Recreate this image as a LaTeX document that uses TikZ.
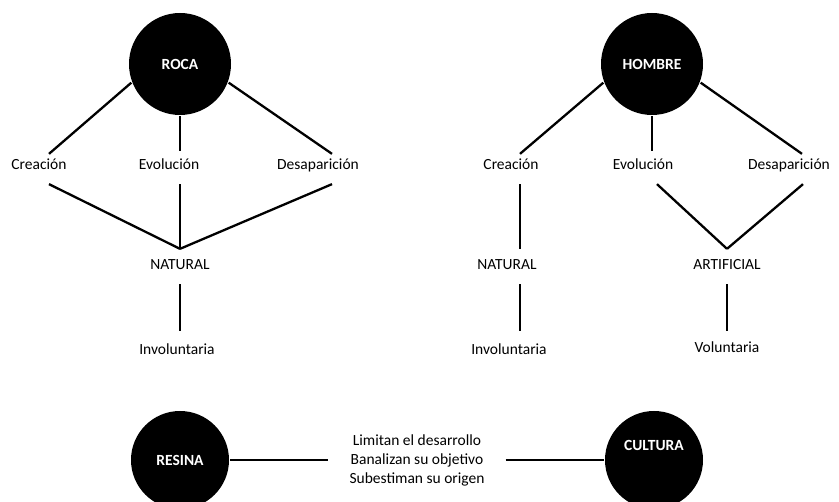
\documentclass[tikz,border=0pt]{standalone}
\usepackage{fontspec}
\setmainfont{Carlito}
\usepackage{tikz}
\usetikzlibrary{positioning}

\begin{document}
\begin{tikzpicture}[x=1pt,y=-1pt,line width=2.3pt,
                    big node/.style={circle,fill=black,text=white,minimum size=102pt,
                                     font=\fontsize{15.5}{19}\selectfont\bfseries},
                    word node/.style={inner sep=4pt,text height=11pt,text depth=9pt,
                                      font=\fontsize{15.5}{19}\selectfont}]
  \useasboundingbox (0,0) rectangle (839,502);

  % roca
  \node[big node] (roca) at (180,64) {ROCA};
  \node[word node] (crea1) at (39,169) {Creación};
  \node[word node] (evol1) at (169,169) {Evolución};
  \node[word node] (desa1) at (318,169) {Desaparición};
  \node[word node] (nat1) at (180,269) {NATURAL};
  \node[word node] (inv1) at (177,354) {Involuntaria};
  \coordinate[above=5pt of nat1.north] (j1);

  % hombre
  \node[big node] (hom) at (652,64) {HOMBRE};
  \node[word node] (crea2) at (511,169) {Creación};
  \node[word node] (evol2) at (643,169) {Evolución};
  \node[word node] (desa2) at (789,169) {Desaparición};
  \node[word node] (nat2) at (507,269) {NATURAL};
  \node[word node] (inv2) at (509,354) {Involuntaria};
  \node[word node] (art) at (727,269) {ARTIFICIAL};
  \node[word node] (vol) at (727,352) {Voluntaria};
  \coordinate[above=5pt of art.north] (j2);

  % resina / cultura
  \node[big node,minimum size=98pt] (res) at (180,460) {RESINA};
  \node[big node,minimum size=98pt,text height=10pt,text depth=28pt] (cul) at (654,460) {CULTURA};
  \node[word node,align=center,inner xsep=20pt,text height=,text depth=] (lim) at (417,460)
    {Limitan el desarrollo\\Banalizan su objetivo\\Subestiman su origen};

  \draw (roca.201) -- ([xshift=10pt]crea1.north);
  \draw[shorten >=3pt] (roca.south) -- (roca.south |- evol1.north);
  \draw (roca.339) -- ([xshift=14pt]desa1.north);
  \draw ([xshift=10pt]crea1.south) -- (j1);
  \draw (roca.south |- evol1.south) -- (j1);
  \draw ([xshift=14pt]desa1.south) -- (j1);
  \draw[shorten >=8pt] (nat1.south) -- (nat1.south |- inv1.north);

  \draw (hom.201) -- ([xshift=9pt]crea2.north);
  \draw[shorten >=3pt] (hom.south) -- (hom.south |- evol2.north);
  \draw (hom.339) -- ([xshift=13pt]desa2.north);
  \draw[shorten >=5pt] ([xshift=9pt]crea2.south) -- ([xshift=9pt]crea2.south |- nat2.north);
  \draw[shorten >=8pt] ([xshift=13pt]nat2.south) -- ([xshift=13pt]nat2.south |- inv2.north);
  \draw ([xshift=14pt]evol2.south) -- (j2);
  \draw ([xshift=14pt]desa2.south) -- (j2);
  \draw[shorten >=6pt] (art.south) -- (art.south |- vol.north);

  \draw (res) -- (lim);
  \draw (lim) -- (cul);
\end{tikzpicture}
\end{document}
